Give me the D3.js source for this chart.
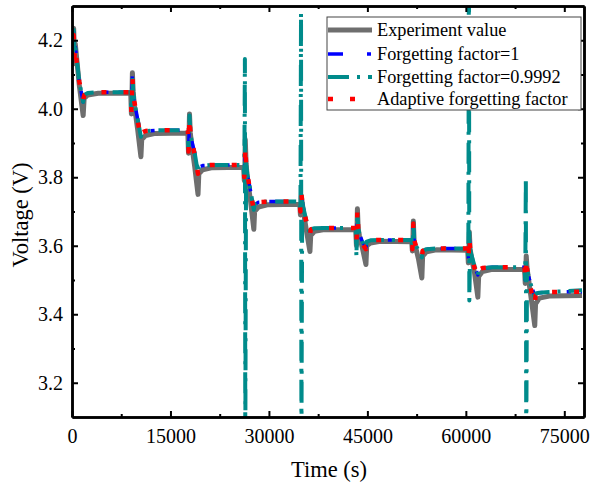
<!DOCTYPE html>
<html>
<head>
<meta charset="utf-8">
<script src="https://cdn.jsdelivr.net/npm/d3@7"></script>
<style>
  html, body { margin: 0; padding: 0; background: #fff; }
  svg { display: block; }
  text { font-family: "Liberation Serif", "Times New Roman", Times, "DejaVu Serif", serif; fill: #000; }
</style>
</head>
<body>
<div id="chart"></div>
<script>
// Pulse-discharge voltage: measured curve vs three estimator variants.
// Time points are shared; every block of 11 points is one pulse + rest.

const timeS = [
  0, 120, 250, 380, 500, 700, 1100, 1700, 1850, 2400, 4000,
  8950, 9050, 9140, 9200, 9320, 9500, 10000, 10500, 10620, 11200, 12700,
  17650, 17750, 17840, 17900, 18020, 18200, 18700, 19200, 19320, 19900, 21400,
  26150, 26250, 26340, 26400, 26520, 26700, 27200, 27700, 27820, 28400, 29900,
  34700, 34800, 34890, 34950, 35070, 35250, 35750, 36250, 36370, 36950, 38450,
  43230, 43330, 43420, 43480, 43600, 43780, 44280, 44780, 44900, 45480, 46980,
  51750, 51850, 51940, 52000, 52120, 52300, 52800, 53300, 53420, 54000, 55500,
  60280, 60380, 60470, 60530, 60650, 60830, 61330, 61830, 61950, 62530, 64030,
  68950, 69050, 69140, 69200, 69320, 69500, 70000, 70500, 70620, 71200, 72700,
  77700
];

const voltExp = [
  4.17, 4.13, 4.235, 4.16, 4.19, 4.15, 4.07, 3.98, 4.03, 4.04, 4.045,
  4.045, 3.985, 4.04, 4.105, 4.05, 4.01, 3.94, 3.86, 3.91, 3.922, 3.928,
  3.929, 3.87, 3.925, 3.985, 3.93, 3.90, 3.83, 3.75, 3.81, 3.822, 3.828,
  3.829, 3.79, 3.83, 3.91, 3.84, 3.80, 3.73, 3.648, 3.70, 3.713, 3.72,
  3.721, 3.69, 3.72, 3.745, 3.725, 3.70, 3.64, 3.583, 3.63, 3.642, 3.647,
  3.647, 3.60, 3.645, 3.708, 3.65, 3.63, 3.59, 3.545, 3.60, 3.608, 3.613,
  3.612, 3.585, 3.615, 3.672, 3.615, 3.60, 3.56, 3.506, 3.57, 3.582, 3.588,
  3.587, 3.55, 3.585, 3.64, 3.59, 3.57, 3.52, 3.45, 3.51, 3.525, 3.531,
  3.531, 3.49, 3.53, 3.57, 3.535, 3.51, 3.44, 3.367, 3.43, 3.447, 3.453,
  3.455
];

const voltFF1 = [
  4.17, 4.14, 4.225, 4.17, 4.18, 4.15, 4.08, 4.02, 4.04, 4.046, 4.048,
  4.048, 3.99, 4.045, 4.10, 4.05, 4.02, 3.97, 3.92, 3.93, 3.935, 3.937,
  3.937, 3.875, 3.93, 3.98, 3.935, 3.91, 3.87, 3.815, 3.83, 3.834, 3.836,
  3.836, 3.80, 3.835, 3.895, 3.84, 3.81, 3.76, 3.707, 3.72, 3.727, 3.729,
  3.729, 3.70, 3.725, 3.74, 3.728, 3.71, 3.67, 3.635, 3.648, 3.651, 3.652,
  3.652, 3.61, 3.65, 3.70, 3.652, 3.635, 3.61, 3.595, 3.612, 3.616, 3.617,
  3.617, 3.59, 3.62, 3.668, 3.618, 3.605, 3.585, 3.568, 3.585, 3.59, 3.592,
  3.592, 3.56, 3.59, 3.62, 3.59, 3.575, 3.54, 3.515, 3.53, 3.535, 3.537,
  3.537, 3.50, 3.535, 3.56, 3.535, 3.515, 3.48, 3.455, 3.46, 3.463, 3.465,
  3.466
];

const voltFF9992 = [
  4.17, 4.14, 4.23, 4.165, 4.18, 4.15, 4.08, 4.02, 4.04, 4.046, 4.048,
  4.048, 3.99, 4.045, 4.10, 4.05, 4.02, 3.97, 3.918, 3.93, 3.935, 3.937,
  3.937, 3.875, 3.93, 3.98, 3.935, 3.91, 3.87, 3.812, 3.83, 3.834, 3.836,
  3.836, 3.80, 4.145, 3.00, 3.84, 3.81, 3.76, 3.705, 3.72, 3.727, 3.729,
  3.729, 3.70, 4.28, 3.00, 3.728, 3.71, 3.67, 3.633, 3.648, 3.651, 3.652,
  3.652, 3.568, 3.65, 3.70, 3.652, 3.635, 3.61, 3.593, 3.612, 3.616, 3.617,
  3.617, 3.59, 3.62, 3.668, 3.618, 3.605, 3.585, 3.566, 3.585, 3.59, 3.592,
  3.592, 3.56, 4.50, 3.44, 3.59, 3.575, 3.54, 3.513, 3.53, 3.535, 3.537,
  3.537, 3.50, 3.80, 3.00, 3.535, 3.515, 3.48, 3.45, 3.46, 3.463, 3.465,
  3.47
];

const voltAFF = [
  4.165, 4.125, 4.215, 4.15, 4.18, 4.14, 4.08, 4.025, 4.04, 4.046, 4.048,
  4.048, 3.99, 4.045, 4.095, 4.045, 4.02, 3.965, 3.915, 3.93, 3.935, 3.937,
  3.937, 3.875, 3.93, 3.975, 3.935, 3.91, 3.865, 3.81, 3.83, 3.834, 3.836,
  3.836, 3.80, 3.835, 3.89, 3.84, 3.81, 3.755, 3.705, 3.72, 3.727, 3.729,
  3.729, 3.70, 3.725, 3.75, 3.728, 3.71, 3.665, 3.63, 3.648, 3.651, 3.652,
  3.652, 3.61, 3.65, 3.705, 3.652, 3.635, 3.605, 3.59, 3.612, 3.616, 3.617,
  3.617, 3.59, 3.62, 3.665, 3.618, 3.605, 3.58, 3.565, 3.585, 3.59, 3.592,
  3.592, 3.56, 3.59, 3.625, 3.59, 3.575, 3.535, 3.51, 3.53, 3.535, 3.537,
  3.537, 3.50, 3.535, 3.565, 3.535, 3.51, 3.465, 3.427, 3.455, 3.463, 3.465,
  3.466
];

const seriesNames = [
  'Experiment value',
  'Forgetting factor=1',
  'Forgetting factor=0.9992',
  'Adaptive forgetting factor'
];

const xTicks = [0, 15000, 30000, 45000, 60000, 75000];
const xMinor = [7500, 22500, 37500, 52500, 67500];
const yTicks = [3.2, 3.4, 3.6, 3.8, 4.0, 4.2];
const yMinor = [3.3, 3.5, 3.7, 3.9, 4.1];

(function () {
  const W = 593, H = 485;
  const margin = { top: 6, right: 9, bottom: 68, left: 72 };
  const innerW = W - margin.left - margin.right;
  const innerH = H - margin.top - margin.bottom;
  const serif = '"Liberation Serif", "Times New Roman", Times, "DejaVu Serif", serif';

  const styles = [
    { color: '#6e6e6e', width: 5, dash: null },
    { color: '#0000ff', width: 3.5, dash: '15,24,4,10' },
    { color: '#008b8b', width: 4, dash: '21,8,3,8' },
    { color: '#ff0000', width: 4.5, dash: '5,17' }
  ];
  const series = [voltExp, voltFF1, voltFF9992, voltAFF];

  const svg = d3.select('#chart').append('svg')
    .attr('width', W).attr('height', H);

  const x = d3.scaleLinear().domain([0, 78000]).range([0, innerW]);
  const y = d3.scaleLinear().domain([3.1, 4.3]).range([innerH, 0]);

  svg.append('defs').append('clipPath').attr('id', 'plot-clip')
    .append('rect').attr('width', innerW).attr('height', innerH);

  const g = svg.append('g')
    .attr('transform', `translate(${margin.left},${margin.top})`);

  const plot = g.append('g').attr('clip-path', 'url(#plot-clip)');

  series.forEach((vals, i) => {
    const st = styles[i];
    const line = d3.line()
      .x((d, k) => x(timeS[k]))
      .y(d => y(d));
    plot.append('path')
      .datum(vals)
      .attr('d', line)
      .attr('fill', 'none')
      .attr('stroke', st.color)
      .attr('stroke-width', st.width)
      .attr('stroke-linejoin', 'round')
      .attr('stroke-dasharray', st.dash);
  });

  // axes, ticks pointing inward on all four sides
  function styleAxis(sel) {
    sel.select('.domain').attr('stroke', '#000').attr('stroke-width', 2.5);
    sel.selectAll('.tick line').attr('stroke', '#000').attr('stroke-width', 2);
    sel.selectAll('.tick text')
      .attr('font-family', serif)
      .attr('font-size', 20).attr('fill', '#000');
  }

  const fmtX = d3.format('d');
  const fmtY = d3.format('.1f');

  g.append('g').attr('transform', `translate(0,${innerH})`)
    .call(d3.axisBottom(x).tickValues(xTicks).tickFormat(fmtX)
      .tickSize(-6).tickSizeOuter(0).tickPadding(12))
    .call(styleAxis);
  g.append('g').attr('transform', `translate(0,${innerH})`)
    .call(d3.axisBottom(x).tickValues(xMinor).tickFormat('')
      .tickSize(-3).tickSizeOuter(0))
    .call(styleAxis);
  g.append('g')
    .call(d3.axisTop(x).tickValues(xTicks).tickFormat('')
      .tickSize(-6).tickSizeOuter(0))
    .call(styleAxis);
  g.append('g')
    .call(d3.axisTop(x).tickValues(xMinor).tickFormat('')
      .tickSize(-3).tickSizeOuter(0))
    .call(styleAxis);

  g.append('g')
    .call(d3.axisLeft(y).tickValues(yTicks).tickFormat(fmtY)
      .tickSize(-6).tickSizeOuter(0).tickPadding(9))
    .call(styleAxis);
  g.append('g')
    .call(d3.axisLeft(y).tickValues(yMinor).tickFormat('')
      .tickSize(-3).tickSizeOuter(0))
    .call(styleAxis);
  g.append('g').attr('transform', `translate(${innerW},0)`)
    .call(d3.axisRight(y).tickValues(yTicks).tickFormat('')
      .tickSize(-6).tickSizeOuter(0))
    .call(styleAxis);
  g.append('g').attr('transform', `translate(${innerW},0)`)
    .call(d3.axisRight(y).tickValues(yMinor).tickFormat('')
      .tickSize(-3).tickSizeOuter(0))
    .call(styleAxis);

  // axis titles
  svg.append('text')
    .attr('x', 329)
    .attr('y', 477)
    .attr('text-anchor', 'middle')
    .attr('font-family', serif)
    .attr('font-size', 22.5)
    .text('Time (s)');

  svg.append('text')
    .attr('transform', 'translate(28,215) rotate(-90)')
    .attr('text-anchor', 'middle')
    .attr('font-family', serif)
    .attr('font-size', 22.5)
    .text('Voltage (V)');

  // legend
  const lg = svg.append('g').attr('transform', 'translate(327,17)');
  lg.append('rect')
    .attr('width', 254).attr('height', 93)
    .attr('fill', '#fff')
    .attr('stroke', '#444').attr('stroke-width', 1);

  const rowY = [13, 37, 60, 82];
  seriesNames.forEach((name, i) => {
    const st = styles[i];
    lg.append('line')
      .attr('x1', 1).attr('x2', 45)
      .attr('y1', rowY[i]).attr('y2', rowY[i])
      .attr('stroke', st.color)
      .attr('stroke-width', st.width)
      .attr('stroke-dasharray', st.dash);
    lg.append('text')
      .attr('x', 50)
      .attr('y', rowY[i] + 6)
      .attr('font-family', serif)
      .attr('font-size', 18.3)
      .text(name);
  });
})();
</script>
</body>
</html>
